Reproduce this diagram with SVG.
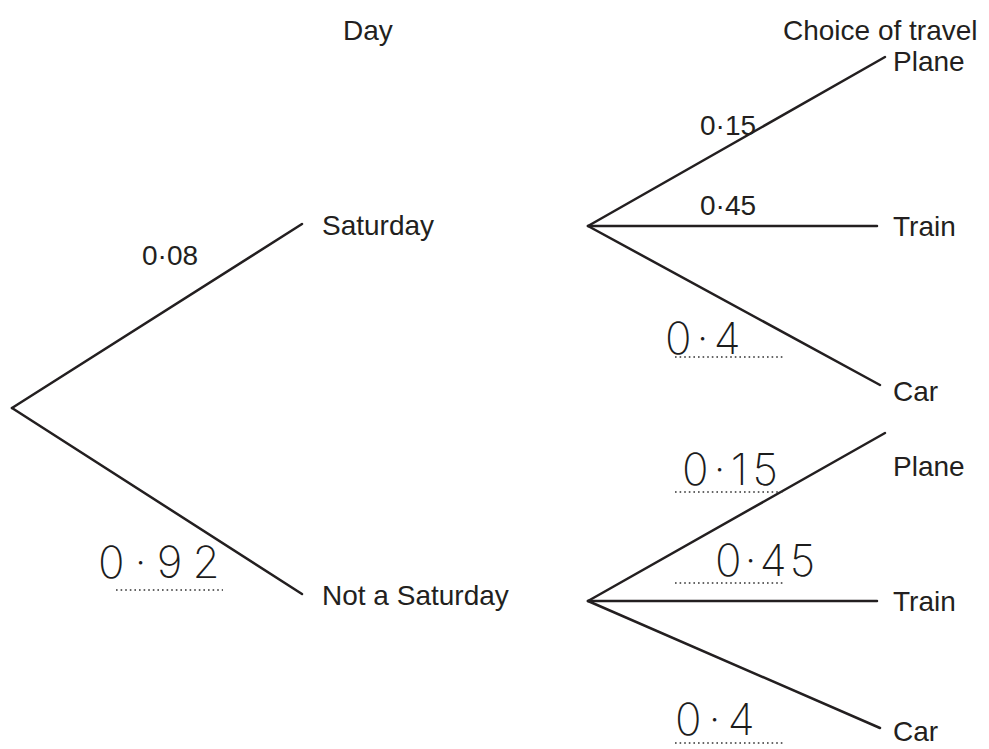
<svg xmlns="http://www.w3.org/2000/svg" width="989" height="749" viewBox="0 0 989 749">
<style>
.t{font-family:"Liberation Sans",Arial,sans-serif;font-size:28px;fill:#231f20}
.h{font-family:Inter,"DejaVu Sans",sans-serif;font-weight:200;font-size:44px;fill:#1c1c1c}
.ln{stroke:#231f20;stroke-width:2.5;fill:none;stroke-linecap:round}
.dot{stroke:#333;stroke-width:1.6;stroke-dasharray:1.6 3;fill:none}
</style>
<rect width="989" height="749" fill="#fff"/>
<g id="headers">
<text class="t" x="343" y="40">Day</text>
<text class="t" x="783" y="40">Choice of travel</text>
</g>
<g id="connectors">
<line class="ln" x1="12" y1="408" x2="302" y2="224"/>
<line class="ln" x1="12" y1="408" x2="302" y2="594"/>
<line class="ln" x1="588" y1="226" x2="885" y2="57"/>
<line class="ln" x1="588" y1="226" x2="877" y2="226"/>
<line class="ln" x1="588" y1="226" x2="880" y2="385"/>
<line class="ln" x1="588" y1="601" x2="885" y2="433"/>
<line class="ln" x1="588" y1="601" x2="877" y2="601"/>
<line class="ln" x1="588" y1="601" x2="880" y2="728"/>
</g>
<g id="node-saturday"><text class="t" x="322" y="235">Saturday</text></g>
<g id="node-not-saturday"><text class="t" x="322" y="605">Not a Saturday</text></g>
<g id="node-plane-1"><text class="t" x="893" y="71">Plane</text></g>
<g id="node-train-1"><text class="t" x="893" y="236">Train</text></g>
<g id="node-car-1"><text class="t" x="893" y="401">Car</text></g>
<g id="node-plane-2"><text class="t" x="893" y="476">Plane</text></g>
<g id="node-train-2"><text class="t" x="893" y="611">Train</text></g>
<g id="node-car-2"><text class="t" x="893" y="741">Car</text></g>
<g id="labels">
<text class="t" x="142" y="265">0·08</text>
<text class="t" x="700" y="135">0·15</text>
<text class="t" x="700" y="215">0·45</text>
</g>
<g id="answers">
<text class="h" x="665" y="354" letter-spacing="5">0·4</text>
<line class="dot" x1="675" y1="357" x2="783" y2="357"/>
<text class="h" x="98" y="578" letter-spacing="10">0·92</text>
<line class="dot" x1="116" y1="590" x2="223" y2="590"/>
<text class="h" x="682" y="485" letter-spacing="5">0·15</text>
<line class="dot" x1="675" y1="492" x2="783" y2="492"/>
<text class="h" x="715" y="576" letter-spacing="3">0·45</text>
<line class="dot" x1="675" y1="583" x2="783" y2="583"/>
<text class="h" x="675" y="735" letter-spacing="7">0·4</text>
<line class="dot" x1="675" y1="743" x2="783" y2="743"/>
</g>
</svg>
